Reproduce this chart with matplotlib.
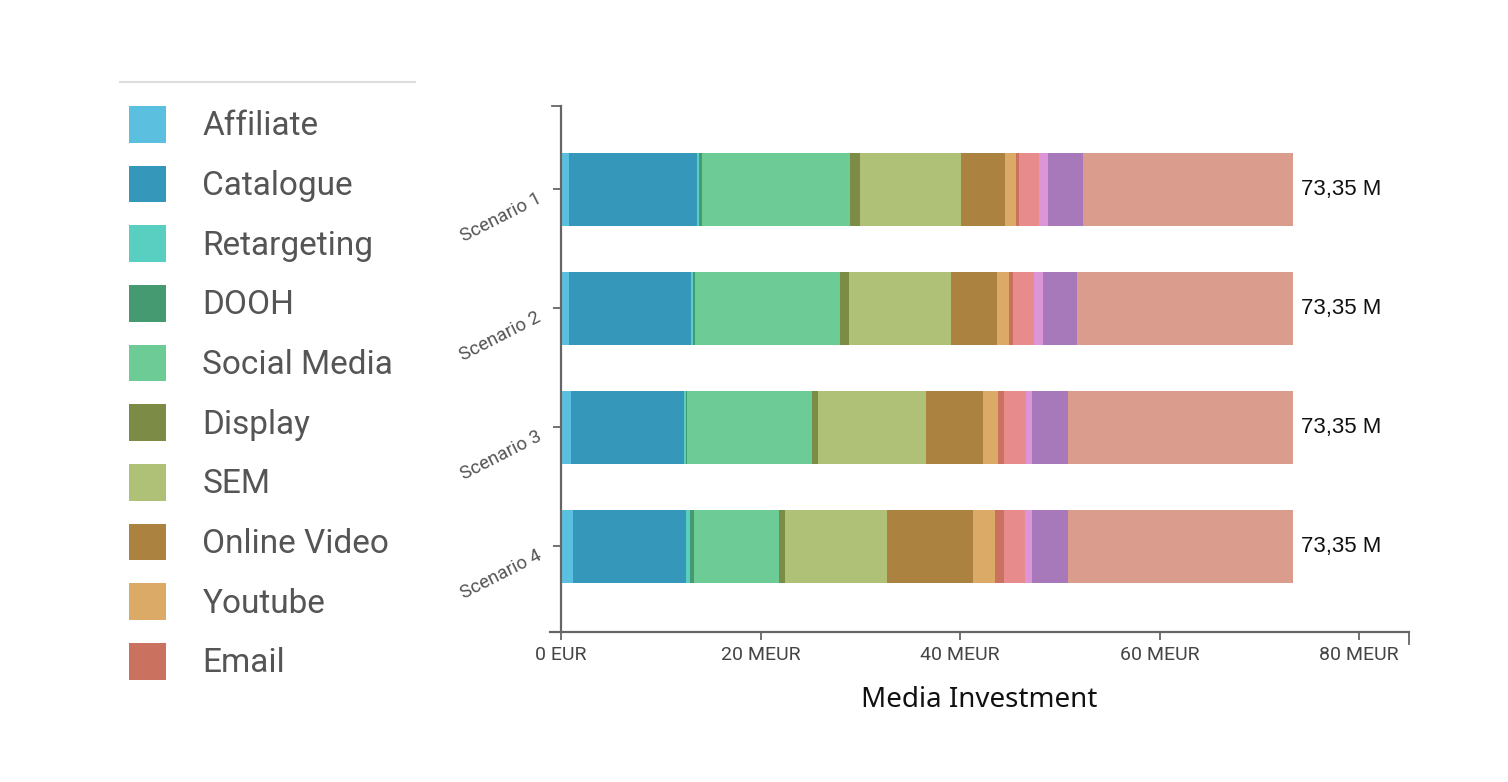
import matplotlib.pyplot as plt
from matplotlib.patches import Patch
from matplotlib.lines import Line2D

# Data (MEUR)
scenarios = ["Scenario 1", "Scenario 2", "Scenario 3", "Scenario 4"]
channels = ["Affiliate", "Catalogue", "Retargeting", "DOOH", "Social Media",
            "Display", "SEM", "Online Video", "Youtube", "Email",
            "Radio", "Print", "OOH", "TV"]
affiliate = [0.76, 0.76, 1.01, 1.19]
catalogue = [12.83, 12.26, 11.29, 11.32]
retargeting = [0.25, 0.21, 0.25, 0.43]
dooh = [0.29, 0.25, 0.10, 0.36]
social_media = [14.82, 14.50, 12.50, 8.60]
display = [1.00, 0.90, 0.61, 0.54]
sem = [10.10, 10.17, 10.85, 10.28]
online_video = [4.41, 4.62, 5.73, 8.60]
youtube = [1.14, 1.25, 1.43, 2.18]
email = [0.32, 0.36, 0.64, 0.90]
radio = [2.00, 2.15, 2.15, 2.15]
print_ = [0.93, 0.90, 0.61, 0.61]
ooh = [3.44, 3.40, 3.65, 3.65]
tv = [21.06, 21.62, 22.53, 22.54]
totals = [73.35, 73.35, 73.35, 73.35]
total_labels = ["73,35 M"] * 4
xticks = [0, 20, 40, 60, 80]
xtick_labels = ["0 EUR", "20 MEUR", "40 MEUR", "60 MEUR", "80 MEUR"]

series = [affiliate, catalogue, retargeting, dooh, social_media, display, sem,
          online_video, youtube, email, radio, print_, ooh, tv]
colors = ["#5BC0DF", "#3598BA", "#58CFC1", "#459A72", "#6DCB96", "#7C8C47",
          "#AEC176", "#AC8240", "#DCAA67", "#CB715F", "#E88B8D", "#DC95D6",
          "#A879BA", "#DA9C8C"]

fig = plt.figure(figsize=(15.08, 7.82), dpi=100)
ax = fig.add_axes([0.3647, 0.1918, 0.5697, 0.6727])

ypos = list(range(len(scenarios)))
left = [0.0] * len(scenarios)
for vals, col, name in zip(series, colors, channels):
    ax.barh(ypos, vals, left=left, height=0.61, color=col, linewidth=0, label=name)
    left = [a + b for a, b in zip(left, vals)]

for y, t, lab in zip(ypos, totals, total_labels):
    ax.text(t + 0.85, y, lab, va="center", ha="left", fontsize=16,
            family="Liberation Sans", color="#111111")

ax.set_xlim(-1.1, 85)
ax.set_ylim(3.72, -0.70)
ax.set_xticks(xticks)
ax.set_xticklabels(xtick_labels)
ax.set_yticks(ypos)
ax.set_yticklabels(scenarios)
ax.set_xlabel("Media Investment", fontsize=20, family="Noto Sans", color="#111111",
              labelpad=16)

for s in ["top", "right"]:
    ax.spines[s].set_visible(False)
ax.spines["left"].set_position(("data", 0))
for s in ["left", "bottom"]:
    ax.spines[s].set_color("#666666")
    ax.spines[s].set_linewidth(1.6)
ax.tick_params(axis="both", colors="#666666", length=6, width=1.3)
ax.tick_params(axis="x", pad=4, labelcolor="#444444", labelsize=14)
ax.tick_params(axis="y", pad=12, labelcolor="#555555", labelsize=13.5)
plt.setp(ax.get_xticklabels(), family="Roboto")
plt.setp(ax.get_yticklabels(), family="Roboto", rotation=27, ha="right",
         va="top", rotation_mode="anchor")

# domain end caps like the original axis
ax.plot([-0.9, 0], [-0.70, -0.70], color="#666666", lw=1.3, clip_on=False)
ax.plot([85, 85], [3.72, 3.82], color="#666666", lw=1.3, clip_on=False)

# legend (only the first ten channels are visible, as in the reference)
handles = [Patch(facecolor=c, edgecolor="none") for c in colors[:10]]
fig.legend(handles, channels[:10], loc="upper left",
           bbox_to_anchor=(129 / 1508, 1 - 106 / 782), frameon=False,
           prop={"family": "Roboto", "size": 24}, labelcolor="#555555",
           handlelength=1.10, handleheight=1.315, handletextpad=1.1,
           labelspacing=0.69, borderpad=0, borderaxespad=0)

fig.add_artist(Line2D([120 / 1508, 415 / 1508], [1 - 82 / 782, 1 - 82 / 782],
                      color="#DDDDDD", lw=1.5))

fig.savefig("out.png", dpi=100)
